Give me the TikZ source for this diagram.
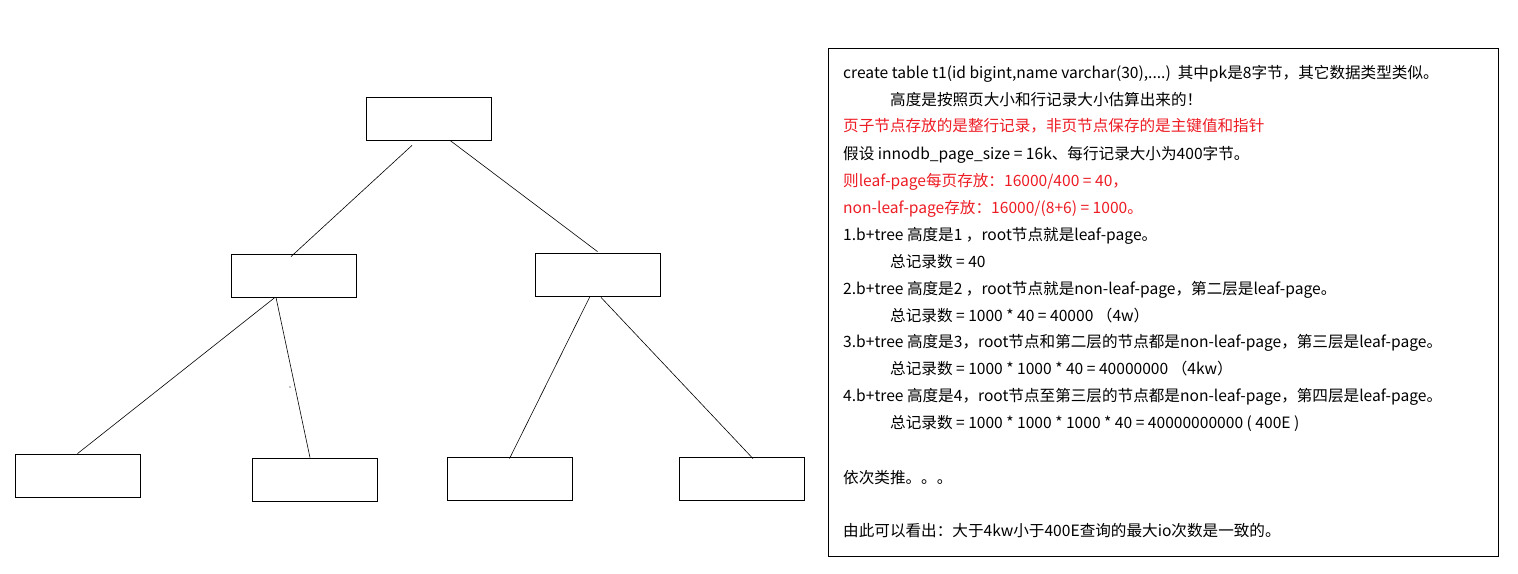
\documentclass[tikz,border=0pt]{standalone}
\usepackage{fontspec}
\setmainfont{Noto Sans CJK SC}
\usepackage{tikz}
\definecolor{notered}{RGB}{237,28,36}
\tikzset{
	page/.style={draw=black, line width=0.8pt, minimum width=125pt, minimum height=43pt, inner sep=0pt},
	link/.style={line width=0.6pt},
	note/.style={anchor=west, inner sep=0pt, text height=11pt, text depth=3pt, font=\fontsize{15.6pt}{18pt}\selectfont},
	notebox/.style={draw=black, line width=0.8pt, minimum width=670pt, minimum height=508pt, inner sep=0pt}
}

\begin{document}
\begin{tikzpicture}[x=1pt,y=-1pt]

	\useasboundingbox (0,0) rectangle (1518,573);

	% the b+tree
	\node[page] (root) at (428.5,118.5) {};
	\node[page] (midl) at (293.5,275.5) {};
	\node[page] (midr) at (597.5,274.5) {};
	\node[page] (leafa) at (77.5,475.5) {};
	\node[page] (leafb) at (314.5,479.5) {};
	\node[page] (leafc) at (509.5,478.5) {};
	\node[page] (leafd) at (741.5,478.5) {};

	\draw[link] ([xshift=-16.5pt,yshift=-5pt]root.south) -- ([xshift=-2.5pt,yshift=-3pt]midl.north);
	\draw[link] ([xshift=21.5pt]root.south) -- ([yshift=1pt]midr.north);
	\draw[link] ([xshift=-18.5pt]midl.south) -- (leafa.north);
	\draw[link] ([xshift=-17.5pt]midl.south) -- ([xshift=-4.5pt]leafb.north);
	\draw[link] ([xshift=-7.5pt]midr.south) -- ([yshift=-2pt]leafc.north);
	\draw[link] ([xshift=3.5pt,yshift=-1pt]midr.south) -- ([xshift=11.5pt,yshift=-2pt]leafd.north);
	\fill[black] (290,387) circle (0.6pt);

	% the notes
	\node[notebox] (notes) at (1163,302) {};
	\node[note] (n1) at (843,74) {create table t1(id bigint,name varchar(30),....)\ \ 其中pk是8字节，其它数据类型类似。};
	\node[note] (n2) at (890,101) {高度是按照页大小和行记录大小估算出来的！};
	\node[note, text=notered] (n3) at (843,127) {页子节点存放的是整行记录，非页节点保存的是主键值和指针};
	\node[note] (n4) at (843,155) {假设 innodb\_page\_size = 16k、每行记录大小为400字节。};
	\node[note, text=notered] (n5) at (843,182) {则leaf-page每页存放：16000/400 = 40，};
	\node[note, text=notered] (n6) at (843,209) {non-leaf-page存放：16000/(8+6) = 1000。};
	\node[note] (n7) at (843,236) {1.b+tree 高度是1 ，root节点就是leaf-page。};
	\node[note] (n8) at (890,263) {总记录数 = 40};
	\node[note] (n9) at (843,290) {2.b+tree 高度是2 ，root节点就是non-leaf-page，第二层是leaf-page。};
	\node[note] (n10) at (890,317) {总记录数 = 1000 * 40 = 40000 （4w）};
	\node[note] (n11) at (843,343) {3.b+tree 高度是3，root节点和第二层的节点都是non-leaf-page，第三层是leaf-page。};
	\node[note] (n12) at (890,370) {总记录数 = 1000 * 1000 * 40 = 40000000 （4kw）};
	\node[note] (n13) at (843,397) {4.b+tree 高度是4，root节点至第三层的节点都是non-leaf-page，第四层是leaf-page。};
	\node[note] (n14) at (890,424) {总记录数 = 1000 * 1000 * 1000 * 40 = 40000000000 ( 400E )};
	\node[note] (n15) at (843,479) {依次类推。。。};
	\node[note] (n16) at (843,532) {由此可以看出：大于4kw小于400E查询的最大io次数是一致的。};

\end{tikzpicture}
\end{document}
